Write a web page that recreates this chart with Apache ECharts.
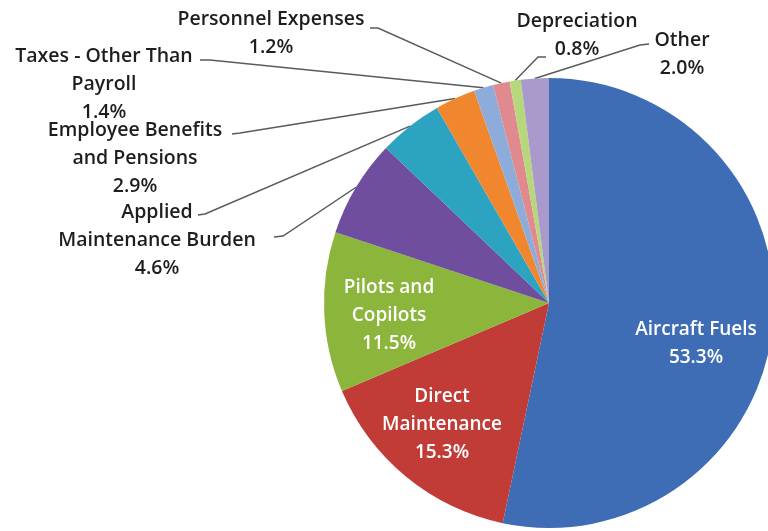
<!DOCTYPE html>
<html>
<head>
<meta charset="utf-8">
<script src="https://cdn.jsdelivr.net/npm/echarts@6/dist/echarts.min.js"></script>
<style>
  html, body { margin: 0; padding: 0; background: #ffffff; }
  #chart { width: 768px; height: 531px; }
</style>
</head>
<body>
<div id="chart"></div>
<script>
// Operating cost breakdown (share of total, %)
const categories = [
  'Aircraft Fuels',
  'Direct Maintenance',
  'Pilots and Copilots',
  'Unlabeled',
  'Applied Maintenance Burden',
  'Employee Benefits and Pensions',
  'Taxes - Other Than Payroll',
  'Personnel Expenses',
  'Depreciation',
  'Other'
];
const shares = [53.3, 15.3, 11.5, 7.0, 4.6, 2.9, 1.4, 1.2, 0.8, 2.0];

// Text shown for each slice (line breaks as printed)
const labelTexts = [
  'Aircraft Fuels\n53.3%',
  'Direct\nMaintenance\n15.3%',
  'Pilots and\nCopilots\n11.5%',
  '',
  'Applied\nMaintenance Burden\n4.6%',
  'Employee Benefits\nand Pensions\n2.9%',
  'Taxes - Other Than\nPayroll\n1.4%',
  'Personnel Expenses\n1.2%',
  'Depreciation\n0.8%',
  'Other\n2.0%'
];

const sliceColors = ['#3e6db5', '#c13c37', '#8bb63b', '#6f4d9f', '#2ca3c0',
                     '#f0872f', '#8eacda', '#e08a8f', '#b6d87b', '#a99acb'];

// Label block centres and leader-line elbows (screen px)
const labelPlacement = [
  { x: 696, y: 344 },
  { x: 442, y: 425 },
  { x: 389, y: 316 },
  { x: 270, y: 238, line: [[283, 236], [274, 237]] },
  { x: 157, y: 240, line: [[205, 214], [198, 215]] },
  { x: 135, y: 158, line: [[240, 133], [232, 134]] },
  { x: 104, y: 84,  line: [[210, 60], [200, 60]] },
  { x: 271, y: 33,  line: [[378, 28], [370, 28]] },
  { x: 577, y: 35,  line: [[538, 57], [546, 57]] },
  { x: 682, y: 54,  line: [[640, 45], [649, 44]] }
];
const insideCount = 3;

const chart = echarts.init(document.getElementById('chart'), null, { renderer: 'canvas' });

const seriesData = categories.map((name, i) => ({
  name: name,
  value: shares[i],
  itemStyle: { color: sliceColors[i] },
  label: i < insideCount
    ? { color: '#ffffff', fontWeight: 600, fontSize: 19 }
    : { color: '#1e1e1e', fontWeight: 600, fontSize: 19.5 },
  labelLine: { show: i >= insideCount }
}));

chart.setOption({
  backgroundColor: '#ffffff',
  animation: false,
  series: [{
    type: 'pie',
    center: [549, 303],
    radius: 225,
    startAngle: 90,
    clockwise: true,
    avoidLabelOverlap: false,
    data: seriesData,
    itemStyle: { borderWidth: 0 },
    label: {
      show: true,
      position: 'outside',
      fontFamily: '"Open Sans", Lato, sans-serif',
      lineHeight: 28,
      align: 'center',
      formatter: p => labelTexts[p.dataIndex] || ' '
    },
    labelLine: {
      show: true,
      length: 10,
      length2: 10,
      lineStyle: { color: '#5a5a5a', width: 1.5 }
    },
    labelLayout: function (params) {
      const i = params.dataIndex;
      const place = labelPlacement[i];
      const out = {
        x: place.x,
        y: place.y,
        align: 'center',
        verticalAlign: 'middle'
      };
      if (place.line && params.labelLinePoints) {
        const start = params.labelLinePoints[0];
        out.labelLinePoints = [start, place.line[0], place.line[1]];
      }
      return out;
    }
  }]
});
</script>
</body>
</html>
